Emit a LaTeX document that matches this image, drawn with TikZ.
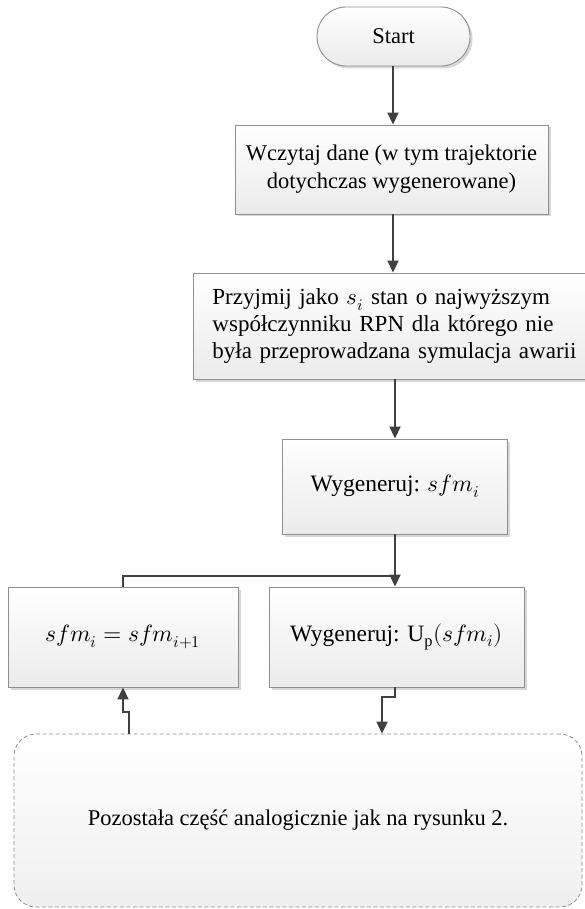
\documentclass[tikz,border=0pt]{standalone}
\usepackage{unicode-math}
\setmainfont{Liberation Serif}
\setmathfont{Latin Modern Math}
\usetikzlibrary{arrows.meta,shadows}
\definecolor{boxline}{HTML}{8F8F8F}
\definecolor{boxfill}{HTML}{EBEBEB}
\definecolor{arrcol}{HTML}{404040}
\tikzset{
  box/.style={draw=boxline, line width=0.9pt, top color=white, bottom color=boxfill,
    drop shadow={shadow xshift=2.5pt, shadow yshift=-2.5pt, fill=black!30, opacity=.5},
    inner sep=0pt, align=center},
  dashbox/.style={draw=boxline, line width=0.8pt, dash pattern=on 4pt off 2.5pt,
    top color=white, bottom color=boxfill!80, rounded corners=22pt, inner sep=0pt, align=center},
  conn/.style={draw=arrcol, line width=1.8pt},
  arr/.style={conn, -{Triangle[length=12pt,width=11pt]}},
  txtA/.style={font=\fontsize{22.5}{28}\selectfont},
  txtB/.style={font=\fontsize{23.5}{25.5}\selectfont},
  txtC/.style={font=\fontsize{23}{27}\selectfont}
}
\begin{document}
\begin{tikzpicture}[x=1pt,y=-1pt]
\useasboundingbox (0,0) rectangle (585,909);
\node[box, rounded corners=29pt, minimum width=153pt, minimum height=59pt, font=\fontsize{22.5}{24}\selectfont] (start) at (393.5,36.5) {Start};
\node[box, minimum width=313pt, minimum height=89pt, txtA] (load) at (391.5,169.5)
  {Wczytaj dane (w tym trajektorie\\dotychczas wygenerowane)};
\node[box, anchor=west, minimum height=106pt, text width=385pt, inner xsep=19pt, align=left, txtC] (take) at (193,326)
  {Przyjmij jako $s_i$ stan o najwyższym\\współczynniku RPN dla którego nie\\była przeprowadzana symulacja awarii};
\node[box, minimum width=225pt, minimum height=95pt, txtB] (gen) at (395,486.5) {Wygeneruj: $sfm_i$};
\node[box, minimum width=230pt, minimum height=100pt, txtB] (upd) at (123,637) {$sfm_i=sfm_{i+1}$};
\node[box, minimum width=255pt, minimum height=100pt, txtB] (genu) at (396.5,637) {Wygeneruj: $\mathrm{U_p}(sfm_i)$};
\node[dashbox, minimum width=568pt, minimum height=173pt, txtA] (rest) at (298,820.5)
  {Pozostała część analogicznie jak na rysunku 2.};
% connectors
\draw[arr] (start.south -| 393,0) -- (393,0 |- load.north);
\draw[arr] (load.south -| 393,0) -- (393,0 |- take.north);
\draw[arr] (take.south -| gen.north) -- (gen.north);
\coordinate (j) at (395,576);
\draw[arr] (gen.south) -- (gen.south |- genu.north);
\draw[conn] (j) -| (upd.north);
\coordinate (a1) at (395,697);
\coordinate (a2) at (382,697);
\draw[arr] (genu.south -| a1) -- (a1) -- (a2) -- (a2 |- rest.north);
\coordinate (b1) at (129,712);
\coordinate (b2) at (123,712);
\draw[arr] (rest.north -| b1) -- (b1) -- (b2) -- (b2 |- upd.south);
\end{tikzpicture}
\end{document}
